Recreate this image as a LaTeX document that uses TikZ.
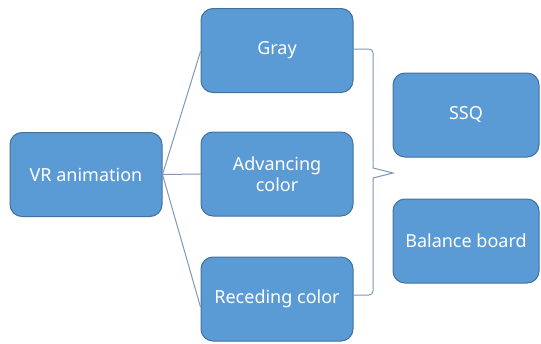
\documentclass[tikz,border=0pt]{standalone}
\usepackage{fontspec}
\setmainfont{Noto Sans}
\definecolor{boxfill}{HTML}{5B9BD5}
\definecolor{boxline}{HTML}{41719C}
\definecolor{conncol}{HTML}{8197B5}
\begin{document}
\begin{tikzpicture}[x=1pt,y=-1pt,
  box/.style={draw=boxline, fill=boxfill, rounded corners=12pt, line width=1pt,
    minimum width=152pt, minimum height=84pt, text=white, align=center,
    font=\fontsize{18}{21}\selectfont, inner sep=0pt},
  conn/.style={draw=conncol, line width=1pt}]
\useasboundingbox (0,0) rectangle (541,343);
\node[box] (vr)  at (86,174.5) {VR animation};
\node[box] (gray) at (277,50.5) {Gray};
\node[box] (adv) at (277,174) {Advancing\\color};
\node[box] (rec) at (277,299) {Receding color};
\node[box, minimum width=146pt] (ssq) at (466,115) {SSQ};
\node[box, minimum width=146pt] (bal) at (466,241) {Balance board};
\coordinate (tip) at (393,173);
\draw[conn] (vr.east) -- ([yshift=-1pt]gray.west);
\draw[conn] (vr.east) -- (adv.west);
\draw[conn] (vr.east) -- ([yshift=-8pt]rec.west);
\draw[conn] ([yshift=1.5pt]gray.east) [rounded corners=4pt] -- (373,49) [sharp corners] -- (373,168) -- (tip) -- (373,178)
  [rounded corners=4pt] -- (373,295) -- ([yshift=4pt]rec.east);
\end{tikzpicture}
\end{document}
